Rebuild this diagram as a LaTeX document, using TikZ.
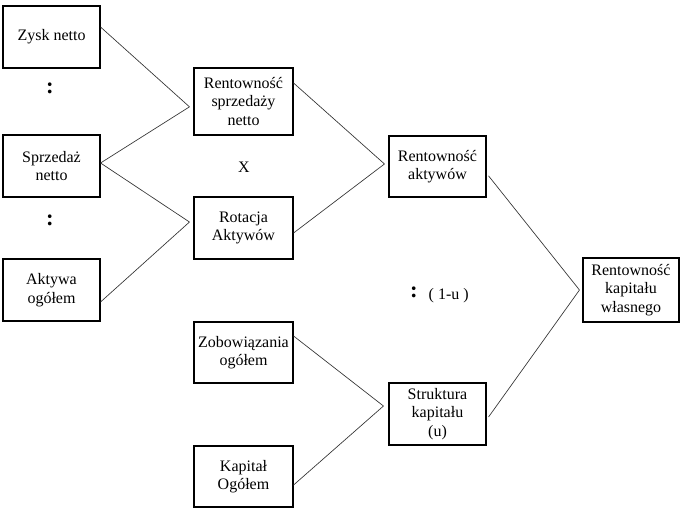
\documentclass[tikz,border=0pt]{standalone}
\usepackage{fontspec}
\setmainfont{Liberation Serif}
\usepackage{tikz}

\tikzset{
  box/.style={draw, line width=0.8pt, align=center, inner sep=0pt,
    minimum width=73pt, minimum height=46.5pt,
    font=\fontsize{12}{13.8}\selectfont},
  link/.style={line width=0.5pt, draw=black!80},
  sign/.style={font=\fontsize{12}{13.8}\selectfont},
  bigcolon/.style={font=\fontsize{17}{17}\selectfont\bfseries}
}

\begin{document}
\begin{tikzpicture}[x=0.75pt, y=-0.75pt]
  \useasboundingbox (0, 0) rectangle (682, 512);

  \node[box, minimum width=72.75pt] (zysk) at (51.5, 37) {Zysk netto};
  \node[box, minimum width=72.75pt] (sprzedaz) at (51.5, 166) {Sprzedaż\\netto};
  \node[box, minimum width=72.75pt] (aktywa) at (51.5, 290) {Aktywa\\ogółem};
  \node[bigcolon] (c1) at (50, 88) {:};
  \node[bigcolon] (c2) at (50, 220) {:};

  \node[box, minimum width=74.25pt, minimum height=50.25pt] (rsn) at (243.5, 101.5) {Rentowność\\sprzedaży\\netto};
  \node[sign] (razy) at (244, 167) {X};
  \node[box, minimum width=74.25pt] (rot) at (243.5, 228) {Rotacja\\Aktywów};
  \node[box, minimum width=74.25pt, minimum height=45.75pt] (zob) at (243.5, 352.5) {Zobowiązania\\ogółem};
  \node[box, minimum width=74.25pt, minimum height=45.75pt] (kap) at (243.5, 476.5) {Kapitał\\Ogółem};

  \node[box, minimum width=72.75pt, minimum height=45.75pt] (ra) at (437.5, 166.5) {Rentowność\\aktywów};
  \node[box, minimum width=72.75pt, minimum height=46.5pt] (sk) at (437.5, 414) {Struktura\\kapitału\\(u)};
  \node[bigcolon] (c3) at (414, 292) {:};
  \node[sign, anchor=west] (jedenu) at (424, 296) {( 1-u )};

  \node[box, minimum width=72pt, minimum height=48pt] (rkw) at (631, 290) {Rentowność\\kapitału\\własnego};

  % punkty zbiegu linii
  \coordinate (jRsn) at ([xshift=-3pt, yshift=-4pt]rsn.west);
  \coordinate (jRot) at ([xshift=-3pt, yshift=4.5pt]rot.west);
  \coordinate (jRa) at ([xshift=-3pt, yshift=1.9pt]ra.west);
  \coordinate (jSk) at ([xshift=-3.75pt, yshift=6pt]sk.west);
  \coordinate (jRkw) at ([xshift=-2.25pt]rkw.west);

  \draw[link] ([yshift=7.5pt]zysk.east) -- (jRsn);
  \draw[link] ([yshift=2.25pt]sprzedaz.east) -- (jRsn);
  \draw[link] ([yshift=2.25pt]sprzedaz.east) -- (jRot);
  \draw[link] ([yshift=-9pt]aktywa.east) -- (jRot);

  \draw[link] ([yshift=13.9pt]rsn.east) -- (jRa);
  \draw[link] ([yshift=-3.75pt]rot.east) -- (jRa);
  \draw[link] ([yshift=12.4pt]zob.east) -- (jSk);
  \draw[link] ([yshift=-6.4pt]kap.east) -- (jSk);

  \draw[link] ([xshift=1.5pt, yshift=-7pt]ra.east) -- (jRkw);
  \draw[link] ([xshift=1.5pt, yshift=-2.25pt]sk.east) -- (jRkw);
\end{tikzpicture}
\end{document}
